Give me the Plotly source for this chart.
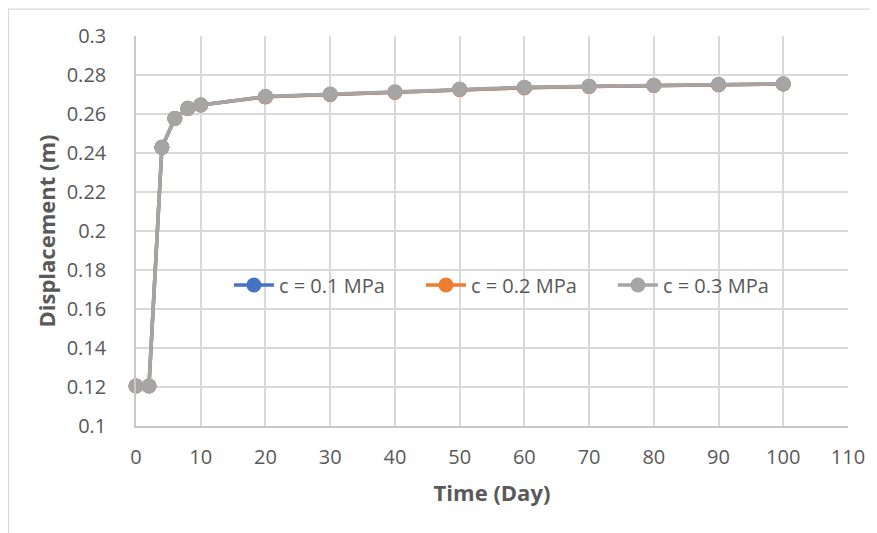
import plotly.graph_objects as go

time_days = [0, 2, 4, 6, 8, 10, 20, 30, 40, 50, 60, 70, 80, 90, 100]
disp_c01 = [0.1205, 0.1205, 0.2429, 0.2577, 0.2629, 0.2646, 0.2688, 0.2700, 0.2712, 0.2726, 0.2735, 0.2741, 0.2746, 0.2750, 0.2754]
disp_c02 = [0.1205, 0.1205, 0.2429, 0.2577, 0.2629, 0.2646, 0.2688, 0.2700, 0.2712, 0.2726, 0.2735, 0.2741, 0.2746, 0.2750, 0.2754]
disp_c03 = [0.1205, 0.1205, 0.2429, 0.2577, 0.2629, 0.2646, 0.2690, 0.2702, 0.2714, 0.2728, 0.2737, 0.2742, 0.2747, 0.2751, 0.2755]
series_names = ["c = 0.1 MPa", "c = 0.2 MPa", "c = 0.3 MPa"]
series_colors = ["#4472C4", "#ED7D31", "#A5A5A5"]
x_ticks = [0, 10, 20, 30, 40, 50, 60, 70, 80, 90, 100, 110]
y_ticks = [0.1, 0.12, 0.14, 0.16, 0.18, 0.2, 0.22, 0.24, 0.26, 0.28, 0.3]
y_tick_text = ["0.1", "0.12", "0.14", "0.16", "0.18", "0.2", "0.22", "0.24", "0.26", "0.28", "0.3"]

FONT = "Open Sans"
GRID = "#d9d9d9"
TXT = "#595959"

fig = go.Figure()
for name, ys, col in zip(series_names, [disp_c01, disp_c02, disp_c03], series_colors):
    fig.add_trace(go.Scatter(
        x=time_days, y=ys, name=name, mode="lines+markers",
        line=dict(color=col, width=3.5),
        marker=dict(color=col, size=15, line=dict(width=0)),
        cliponaxis=False,
    ))

fig.update_layout(
    width=869, height=525,
    margin=dict(l=128, r=27, t=28, b=107),
    paper_bgcolor="white", plot_bgcolor="white",
    font=dict(family=FONT, color=TXT, size=20),
    showlegend=True,
    legend=dict(
        orientation="h", x=0.535, xanchor="center", y=0.3615, yanchor="middle",
        bgcolor="rgba(0,0,0,0)", font=dict(size=20, color=TXT, family=FONT),
        entrywidth=137, entrywidthmode="pixels", itemwidth=40,
    ),
    xaxis=dict(
        range=[0, 110], tickvals=x_ticks, showgrid=True, gridcolor=GRID, gridwidth=1.5,
        zeroline=False, showline=True, linecolor="#c8c8c8", linewidth=1.5,
        ticks="", tickfont=dict(size=20, color=TXT), ticklabelstandoff=12,
        title=dict(text="<b>Time (Day)</b>", font=dict(size=22, color=TXT), standoff=17),
    ),
    yaxis=dict(
        range=[0.1, 0.3], tickvals=y_ticks, ticktext=y_tick_text, showgrid=True,
        gridcolor=GRID, gridwidth=1.5, zeroline=False, showline=True,
        linecolor="#c8c8c8", linewidth=1.5, ticks="",
        tickfont=dict(size=20, color=TXT), ticklabelstandoff=24,
        title=dict(text="<b>Displacement (m)</b>", font=dict(size=22, color=TXT), standoff=5),
    ),
    shapes=[dict(type="rect", xref="paper", yref="paper", x0=-0.179, x1=1.3,
                 y0=-0.6, y1=1.069, line=dict(color="#d9d9d9", width=1.2),
                 fillcolor="rgba(0,0,0,0)", layer="below")],
)

fig.write_html("out.html")
